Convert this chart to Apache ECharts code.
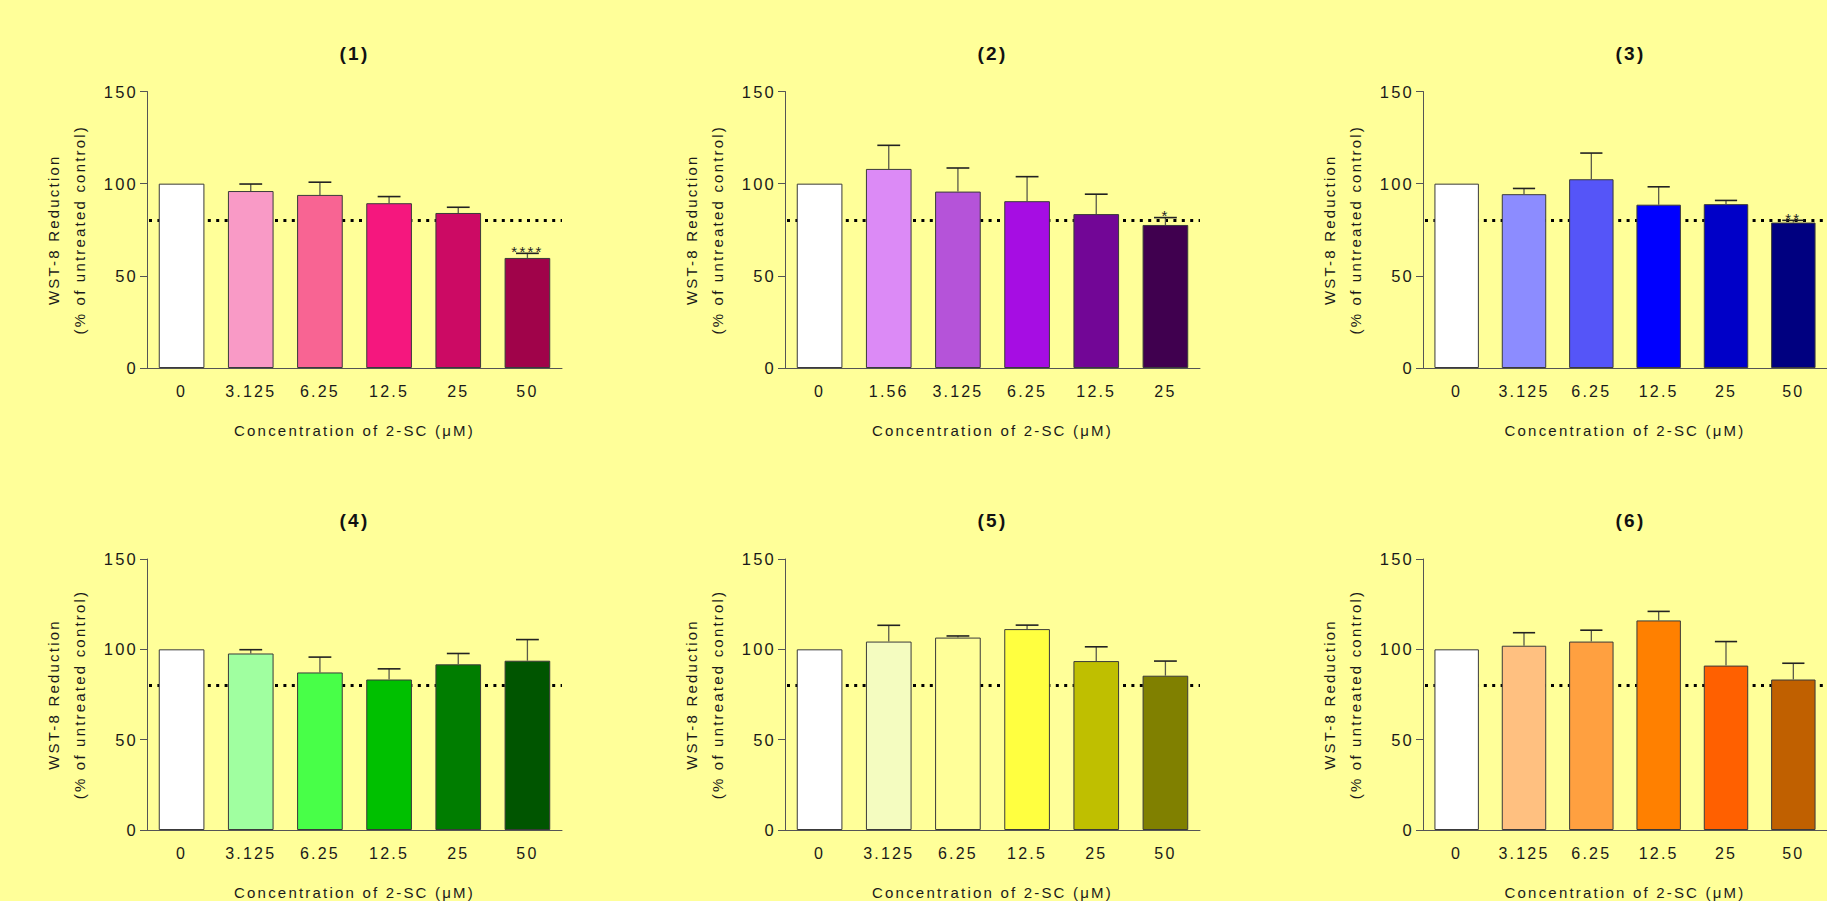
<!DOCTYPE html>
<html>
<head>
<meta charset="utf-8">
<script src="https://cdn.jsdelivr.net/npm/echarts@6.0.0/dist/echarts.min.js"></script>
<style>
html, body { margin: 0; padding: 0; background: #FFFF99; }
#main { width: 1827px; height: 901px; }
#main text { letter-spacing: 2.2px; }
</style>
</head>
<body>
<div id="main"></div>
<script>
// ---------- data ----------
const panelTitles = ['(1)', '(2)', '(3)', '(4)', '(5)', '(6)'];
const catsA = ['0', '3.125', '6.25', '12.5', '25', '50'];
const catsB = ['0', '1.56', '3.125', '6.25', '12.5', '25'];
const yTicks = [0, 50, 100, 150];
const threshold = 80;
const xTitle = 'Concentration of 2-SC (μM)';
const yTitle = 'WST-8 Reduction\n(% of untreated control)';

const means1 = [100, 96.0, 93.9, 89.4, 84.1, 59.7];
const errs1  = [0, 3.8, 6.9, 3.6, 3.1, 2.5];
const stars1 = ['', '', '', '', '', '****'];

const means2 = [100, 108.0, 95.7, 90.5, 83.5, 77.6];
const errs2  = [0, 12.8, 12.8, 13.3, 10.8, 4.0];
const stars2 = ['', '', '', '', '', '*'];

const means3 = [100, 94.3, 102.4, 88.6, 88.9, 78.9];
const errs3  = [0, 3.1, 14.2, 9.7, 2.0, 1.2];
const stars3 = ['', '', '', '', '', '**'];

const means4 = [100, 97.7, 87.2, 83.3, 91.7, 93.7];
const errs4  = [0, 2.1, 8.5, 5.9, 6.0, 11.7];
const stars4 = ['', '', '', '', '', ''];

const means5 = [100, 104.3, 106.5, 111.2, 93.5, 85.4];
const errs5  = [0, 9.0, 0.9, 2.2, 7.9, 8.1];
const stars5 = ['', '', '', '', '', ''];

const means6 = [100, 102.0, 104.3, 116.0, 91.0, 83.3];
const errs6  = [0, 7.2, 6.3, 5.0, 13.3, 9.0];
const stars6 = ['', '', '', '', '', ''];

// ---------- styles ----------
const colors1 = ['#FFFFFF', '#F99AC6', '#F86493', '#F5177E', '#CC0A64', '#A0034A'];
const colors2 = ['#FFFFFF', '#DC8AF6', '#B553D9', '#A60DE3', '#720696', '#40004F'];
const colors3 = ['#FFFFFF', '#8C8CFF', '#5555F8', '#0000FF', '#0000C8', '#000080'];
const colors4 = ['#FFFFFF', '#A0FFA0', '#48FF48', '#00C000', '#007D00', '#005500'];
const colors5 = ['#FFFFFF', '#F4FCC0', '#FFFF99', '#FFFF40', '#BFBF00', '#808000'];
const colors6 = ['#FFFFFF', '#FFC080', '#FFA040', '#FF8000', '#FF6000', '#C06000'];

const panels = [
  { cats: catsA, means: means1, errs: errs1, stars: stars1, colors: colors1 },
  { cats: catsB, means: means2, errs: errs2, stars: stars2, colors: colors2 },
  { cats: catsA, means: means3, errs: errs3, stars: stars3, colors: colors3 },
  { cats: catsA, means: means4, errs: errs4, stars: stars4, colors: colors4 },
  { cats: catsA, means: means5, errs: errs5, stars: stars5, colors: colors5 },
  { cats: catsA, means: means6, errs: errs6, stars: stars6, colors: colors6 }
];

// ---------- layout ----------
const FONT = '"Liberation Sans", Arial, sans-serif';
const colLeft = [147, 785, 1423];
const rowTop = [91.5, 559];
const gridW = 415;
const gridH = 276.5;
const barFrac = 0.66;

function makeErrRender(stars) {
  return function (params, api) {
    const i = api.value(0), m = api.value(1), e = api.value(2);
    const bw = api.size([1, 0])[0] * barFrac;
    const half = bw * 0.25;
    const p0 = api.coord([i, m]);
    const p1 = api.coord([i, m + e]);
    const children = [];
    if (e > 0) {
      children.push({ type: 'line', shape: { x1: p0[0], y1: p0[1], x2: p1[0], y2: p1[1] },
        style: { stroke: '#5a5a4a', lineWidth: 1.3 } });
      children.push({ type: 'line', shape: { x1: p1[0] - half, y1: p1[1], x2: p1[0] + half, y2: p1[1] },
        style: { stroke: '#222', lineWidth: 1.6 } });
    }
    const s = stars[params.dataIndex];
    if (s) {
      children.push({ type: 'text', x: p1[0], y: p1[1] - 2,
        style: { text: s, align: 'center', verticalAlign: 'middle', textAlign: 'center',
          textVerticalAlign: 'middle', font: '15px ' + FONT, fill: '#222' } });
    }
    return { type: 'group', children: children };
  };
}

function renderThreshold(params, api) {
  const y = api.coord([0, api.value(1)])[1];
  const cs = params.coordSys;
  return {
    type: 'line', silent: true,
    shape: { x1: cs.x + 2, y1: y, x2: cs.x + cs.width, y2: y },
    style: { stroke: '#000', lineWidth: 3, lineDash: [3, 5.4], lineCap: 'butt' }
  };
}

const option = {
  backgroundColor: '#FFFF99',
  animation: false,
  title: [], grid: [], xAxis: [], yAxis: [], series: []
};

panels.forEach(function (p, k) {
  const left = colLeft[k % 3];
  const top = rowTop[Math.floor(k / 3)];
  option.title.push({
    text: panelTitles[k], left: left + gridW / 2, top: top - 48, textAlign: 'center', padding: 0,
    textStyle: { fontFamily: FONT, fontSize: 19, fontWeight: 'bold', color: '#111' }
  });
  option.grid.push({ left: left, top: top, width: gridW, height: gridH });
  option.xAxis.push({
    type: 'category', gridIndex: k, data: p.cats,
    axisLine: { lineStyle: { color: '#555', width: 1 } },
    axisTick: { alignWithLabel: true, length: 7, lineStyle: { color: '#555' } },
    axisLabel: { interval: 0, margin: 15, fontSize: 16, fontFamily: FONT, color: '#1a1a1a' },
    name: xTitle, nameLocation: 'middle', nameGap: 55,
    nameTextStyle: { fontSize: 15, fontFamily: FONT, color: '#1a1a1a' }
  });
  option.yAxis.push({
    type: 'value', gridIndex: k, min: yTicks[0], max: yTicks[yTicks.length - 1], interval: yTicks[1] - yTicks[0],
    splitLine: { show: false },
    axisLine: { show: true, lineStyle: { color: '#555', width: 1 } },
    axisTick: { show: true, length: 7, lineStyle: { color: '#555' } },
    axisLabel: { margin: 9, fontSize: 16.5, fontFamily: FONT, color: '#1a1a1a' },
    name: yTitle, nameLocation: 'middle', nameRotate: 90, nameGap: 55,
    nameTextStyle: { fontSize: 15, lineHeight: 26, fontFamily: FONT, color: '#1a1a1a', align: 'center' }
  });
  // dotted reference line at the threshold, drawn behind the bars
  option.series.push({
    type: 'custom', xAxisIndex: k, yAxisIndex: k, z: 1, silent: true,
    encode: { x: 0, y: 1 },
    data: [[0, threshold]],
    renderItem: renderThreshold
  });
  option.series.push({
    type: 'bar', xAxisIndex: k, yAxisIndex: k, barWidth: (barFrac * 100) + '%', z: 10,
    data: p.means.map(function (v, i) { return { value: v, itemStyle: { color: p.colors[i] } }; }),
    itemStyle: { borderColor: '#3a3a3a', borderWidth: 1 },
    emphasis: { disabled: true }
  });
  option.series.push({
    type: 'custom', xAxisIndex: k, yAxisIndex: k, z: 11,
    encode: { x: 0, y: 1 },
    data: p.means.map(function (v, i) { return [i, v, p.errs[i]]; }),
    renderItem: makeErrRender(p.stars)
  });
});

const chart = echarts.init(document.getElementById('main'), null, { renderer: 'svg' });
chart.setOption(option);
</script>
</body>
</html>
